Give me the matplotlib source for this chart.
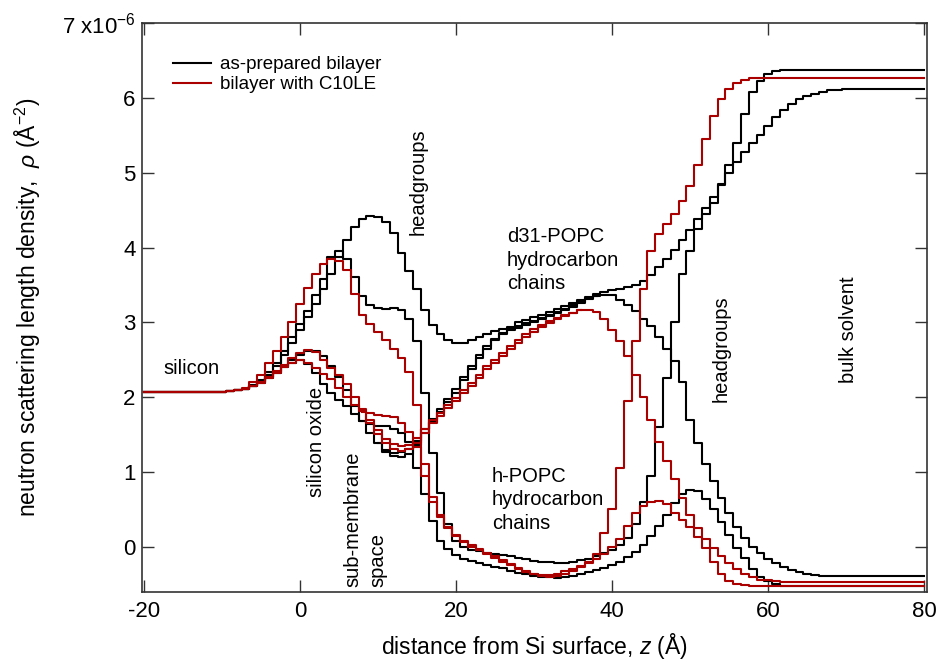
import numpy as np
import matplotlib
matplotlib.use("Agg")
import matplotlib.pyplot as plt

plt.rcParams['font.family'] = ['Liberation Sans', 'DejaVu Sans']
plt.rcParams['mathtext.fontset'] = 'custom'
plt.rcParams['mathtext.rm'] = 'Liberation Sans'
plt.rcParams['mathtext.it'] = 'Liberation Sans:italic'
plt.rcParams['mathtext.bf'] = 'Liberation Sans:bold'
plt.rcParams['axes.unicode_minus'] = False

# distance from the Si surface (Angstrom), 1 A slabs
z = list(range(-20, 81))

# as-prepared bilayer, SLD in units of 1e-6 A^-2
black_h_d2o = [2.07] * 10 + [
    2.07, 2.08, 2.09, 2.11, 2.16, 2.23, 2.33, 2.45, 2.62, 2.80,
    2.98, 3.15, 3.36, 3.58, 3.88, 3.96, 3.85, 3.60, 3.35, 3.23,
    3.19, 3.18, 3.19, 3.17, 3.05, 2.75, 2.05, 1.25, 0.72, 0.30,
    0.08, 0.00, -0.04, -0.06, -0.08, -0.10, -0.11, -0.13, -0.15, -0.17,
    -0.19, -0.20, -0.21, -0.22, -0.22, -0.20, -0.18, -0.16, -0.12, -0.09,
    -0.05, 0.02, 0.12, 0.30, 0.60, 0.95, 1.60, 2.25, 3.00, 3.65,
    3.95, 4.25, 4.45, 4.60, 4.85, 5.10, 5.40, 5.78, 6.08, 6.22,
    6.32, 6.36] + [6.38] * 19

black_d31_d2o = [2.07] * 10 + [
    2.07, 2.08, 2.09, 2.11, 2.15, 2.21, 2.30, 2.42, 2.56, 2.72,
    2.90, 3.07, 3.25, 3.45, 3.65, 3.87, 4.10, 4.28, 4.38, 4.42,
    4.41, 4.34, 4.20, 3.93, 3.68, 3.45, 3.17, 2.97, 2.84, 2.76,
    2.73, 2.73, 2.76, 2.80, 2.84, 2.88, 2.91, 2.94, 3.00, 3.03,
    3.07, 3.10, 3.14, 3.18, 3.22, 3.26, 3.30, 3.34, 3.38, 3.41,
    3.43, 3.45, 3.47, 3.50, 3.55, 3.63, 3.74, 3.85, 3.97, 4.10,
    4.24, 4.38, 4.53, 4.68, 4.84, 5.00, 5.14, 5.28, 5.40, 5.50,
    5.62, 5.74, 5.84, 5.92, 5.98, 6.02, 6.05, 6.08, 6.10, 6.11] + [6.12] * 11

black_d31_h2o = [2.07] * 10 + [
    2.07, 2.08, 2.09, 2.11, 2.15, 2.20, 2.27, 2.34, 2.42, 2.50,
    2.56, 2.61, 2.62, 2.55, 2.42, 2.27, 2.10, 1.88, 1.68, 1.52,
    1.38, 1.27, 1.21, 1.20, 1.24, 1.36, 1.52, 1.67, 1.80, 1.93,
    2.06, 2.23, 2.38, 2.52, 2.65, 2.76, 2.84, 2.90, 2.93, 2.97,
    3.00, 3.04, 3.08, 3.12, 3.16, 3.21, 3.26, 3.31, 3.35, 3.37,
    3.36, 3.30, 3.23, 3.15, 3.05, 2.95, 2.80, 2.65, 2.48, 2.20,
    1.70, 1.38, 1.10, 0.88, 0.65, 0.45, 0.27, 0.12, 0.00, -0.09,
    -0.16, -0.22, -0.27, -0.31, -0.34, -0.36, -0.38] + [-0.39] * 14

# second d31 trace that runs alongside through the chain region
z_black_d31_b = list(range(10, 39))
black_d31_h2o_b = [
    1.38, 1.29, 1.25, 1.26, 1.31, 1.42, 1.57, 1.71, 1.84, 1.97,
    2.11, 2.27, 2.42, 2.56, 2.68, 2.78, 2.86, 2.91, 2.95, 2.99,
    3.02, 3.06, 3.10, 3.14, 3.18, 3.23, 3.27, 3.32, 3.35]

black_h_h2o = [2.07] * 10 + [
    2.07, 2.08, 2.09, 2.11, 2.15, 2.19, 2.25, 2.32, 2.40, 2.46,
    2.49, 2.44, 2.32, 2.18, 2.06, 1.96, 1.88, 1.78, 1.68, 1.64,
    1.62, 1.61, 1.58, 1.52, 1.40, 1.05, 0.70, 0.35, 0.08, -0.03,
    -0.11, -0.16, -0.19, -0.22, -0.25, -0.27, -0.29, -0.32, -0.35, -0.37,
    -0.39, -0.40, -0.41, -0.42, -0.41, -0.39, -0.37, -0.34, -0.31, -0.28,
    -0.24, -0.20, -0.14, -0.07, 0.02, 0.14, 0.28, 0.42, 0.58, 0.70,
    0.76, 0.74, 0.64, 0.50, 0.33, 0.15, -0.02, -0.15, -0.30, -0.40,
    -0.46, -0.50, -0.52] + [-0.53] * 18

# bilayer after C10LE
red_h_d2o = [2.07] * 10 + [
    2.07, 2.08, 2.09, 2.12, 2.20, 2.30, 2.45, 2.62, 2.80, 3.00,
    3.25, 3.46, 3.65, 3.78, 3.84, 3.82, 3.70, 3.38, 3.10, 2.98,
    2.87, 2.77, 2.65, 2.52, 2.34, 1.90, 1.10, 0.66, 0.43, 0.27,
    0.16, 0.08, 0.02, -0.03, -0.08, -0.13, -0.18, -0.23, -0.28, -0.33,
    -0.36, -0.38, -0.38, -0.36, -0.33, -0.30, -0.26, -0.21, -0.10, 0.18,
    0.50, 1.05, 1.95, 2.75, 3.45, 3.95, 4.18, 4.32, 4.45, 4.62,
    4.82, 5.10, 5.45, 5.76, 5.98, 6.12, 6.20, 6.24, 6.26] + [6.27] * 22

red_d31_h2o = [2.07] * 10 + [
    2.07, 2.08, 2.09, 2.11, 2.15, 2.20, 2.27, 2.35, 2.43, 2.52,
    2.59, 2.63, 2.60, 2.50, 2.39, 2.29, 2.18, 2.00, 1.82, 1.69,
    1.56, 1.44, 1.37, 1.34, 1.36, 1.45, 1.58, 1.70, 1.79, 1.89,
    1.99, 2.09, 2.19, 2.30, 2.41, 2.50, 2.59, 2.68, 2.76, 2.84,
    2.91, 2.97, 3.02, 3.06, 3.10, 3.13, 3.16, 3.17, 3.14, 3.05,
    2.90, 2.75, 2.55, 2.30, 2.00, 1.70, 1.40, 1.14, 0.90, 0.65,
    0.42, 0.25, 0.10, -0.02, -0.12, -0.22, -0.30, -0.37, -0.41, -0.44,
    -0.45, -0.46] + [-0.47] * 19

z_red_d31_b = list(range(8, 37))
red_d31_h2o_b = [
    1.80, 1.65, 1.51, 1.39, 1.31, 1.28, 1.30, 1.39, 1.52, 1.65,
    1.75, 1.85, 1.95, 2.05, 2.15, 2.26, 2.37, 2.46, 2.55, 2.64,
    2.72, 2.80, 2.87, 2.94, 2.99, 3.04, 3.08, 3.12, 3.16]

red_h_h2o = [2.07] * 10 + [
    2.07, 2.08, 2.09, 2.11, 2.15, 2.19, 2.25, 2.32, 2.40, 2.46,
    2.49, 2.46, 2.39, 2.31, 2.24, 2.12, 2.00, 1.90, 1.84, 1.79,
    1.76, 1.75, 1.73, 1.66, 1.53, 1.33, 0.95, 0.60, 0.40, 0.25,
    0.14, 0.06, 0.00, -0.05, -0.10, -0.15, -0.20, -0.25, -0.30, -0.34,
    -0.37, -0.39, -0.40, -0.39, -0.36, -0.32, -0.27, -0.22, -0.16, -0.10,
    0.00, 0.10, 0.28, 0.45, 0.54, 0.60, 0.61, 0.57, 0.45, 0.36,
    0.27, 0.13, -0.02, -0.20, -0.36, -0.46, -0.50, -0.51] + [-0.52] * 23

legend_labels = ['as-prepared bilayer', 'bilayer with C10LE']
x_ticks = [-20, 0, 20, 40, 60, 80]
y_ticks = [0, 1, 2, 3, 4, 5, 6, 7]
y_tick_labels = ['0', '1', '2', '3', '4', '5', '6', '7 x10$^{-6}$']

BLACK = '#000000'
RED = '#aa0000'
AXCOL = '#333333'

fig = plt.figure(figsize=(9.37, 6.61), dpi=100)
ax = fig.add_axes([0.152, 0.105, 0.837, 0.860])

lw = 1.5
kw = dict(drawstyle='steps-mid', lw=lw)
ax.plot(z, black_h_d2o, color=BLACK, label=legend_labels[0], **kw)
ax.plot(z, black_d31_d2o, color=BLACK, **kw)
ax.plot(z, black_d31_h2o, color=BLACK, **kw)
ax.plot(z_black_d31_b, black_d31_h2o_b, color=BLACK, **kw)
ax.plot(z, black_h_h2o, color=BLACK, **kw)
ax.plot(z, red_h_d2o, color=RED, label=legend_labels[1], **kw)
ax.plot(z, red_d31_h2o, color=RED, **kw)
ax.plot(z_red_d31_b, red_d31_h2o_b, color=RED, **kw)
ax.plot(z, red_h_h2o, color=RED, **kw)

ax.set_xlim(-20.2, 80.3)
ax.set_ylim(-0.6, 7.0)
ax.set_xticks(x_ticks)
ax.set_yticks(y_ticks)
ax.set_yticklabels(y_tick_labels)

for s in ax.spines.values():
    s.set_color(AXCOL)
    s.set_linewidth(1.2)
ax.tick_params(which='major', direction='in', length=8.5, width=1.0,
               color=AXCOL, top=True, right=True, labelsize=16)
ax.tick_params(axis='x', pad=7)
ax.tick_params(axis='y', pad=5)

ax.set_xlabel(r'distance from Si surface, $z$ (Å)', fontsize=16.5)
ax.set_ylabel(r'neutron scattering length density,  $\rho$ (Å$^{-2}$)', fontsize=16.5)
ax.xaxis.set_label_coords(0.5, -0.069)
ax.yaxis.set_label_coords(-0.127, 0.5)

leg = ax.legend(loc='upper left', bbox_to_anchor=(0.02, 0.968), frameon=False,
                fontsize=13.5, handlelength=2.0, handletextpad=0.5,
                labelspacing=0.15, borderpad=0.3)

tfs = 14.5
ax.text(-17.5, 2.38, 'silicon', fontsize=tfs, va='center', ha='left')
ax.text(2.05, 0.67, 'silicon oxide', fontsize=tfs, rotation=90, ha='center', va='bottom')
ax.text(6.8, -0.54, 'sub-membrane', fontsize=tfs, rotation=90, ha='center', va='bottom')
ax.text(10.0, -0.54, 'space', fontsize=tfs, rotation=90, ha='center', va='bottom')
ax.text(15.1, 4.17, 'headgroups', fontsize=tfs, rotation=90, ha='center', va='bottom')
ax.text(26.5, 4.27, 'd31-POPC\nhydrocarbon\nchains', fontsize=tfs, ha='left', va='top',
        linespacing=1.3)
ax.text(24.6, 1.07, 'h-POPC\nhydrocarbon\nchains', fontsize=tfs, ha='left', va='top',
        linespacing=1.3)
ax.text(53.9, 1.94, 'headgroups', fontsize=tfs, rotation=90, ha='center', va='bottom')
ax.text(70.3, 2.19, 'bulk solvent', fontsize=tfs, rotation=90, ha='center', va='bottom')

fig.savefig('out.png', dpi=100)
